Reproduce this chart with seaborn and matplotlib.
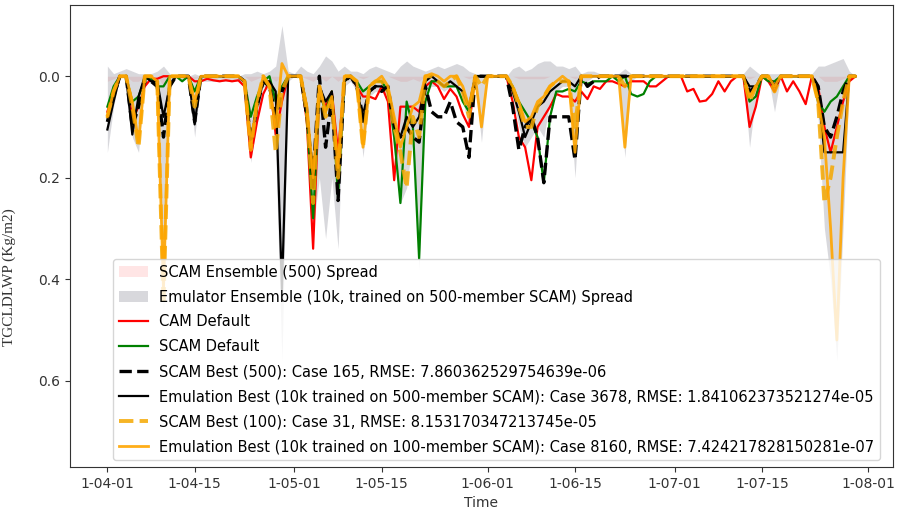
import datetime as dt

import numpy as np
import matplotlib
matplotlib.use("Agg")
import matplotlib.pyplot as plt
import matplotlib.dates as mdates
from matplotlib.ticker import MultipleLocator
import seaborn as sns

# ---------------------------------------------------------------------------
# Daily TGCLDLWP series, 1-04-01 .. 1-07-30 (121 days)
# ---------------------------------------------------------------------------
start_date = dt.datetime(1, 4, 1)
n_days = 121

cam_default = [
    0.07, 0.03, 0.0, 0.0, 0.085, 0.06, 0.02, 0.005, 0.005, 0.0,
    0.0, 0.0, 0.0, 0.0, 0.01, 0.01, 0.005, 0.008, 0.01, 0.008,
    0.01, 0.008, 0.02, 0.16, 0.09, 0.035, 0.01, 0.115, 0.05, 0.0,
    0.0, 0.0, 0.09, 0.34, 0.03, 0.06, 0.03, 0.15, 0.01, 0.0,
    0.02, 0.04, 0.04, 0.045, 0.02, 0.05, 0.205, 0.06, 0.06, 0.06,
    0.07, 0.02, 0.01, 0.02, 0.045, 0.025, 0.04, 0.075, 0.1, 0.0,
    0.0, 0.0, 0.0, 0.0, 0.0, 0.05, 0.12, 0.14, 0.205, 0.1,
    0.08, 0.06, 0.035, 0.04, 0.04, 0.05, 0.03, 0.045, 0.02, 0.025,
    0.01, 0.01, 0.015, 0.02, 0.01, 0.01, 0.01, 0.02, 0.02, 0.01,
    0.0, 0.0, 0.0, 0.03, 0.025, 0.05, 0.048, 0.035, 0.01, 0.03,
    0.01, 0.0, 0.0, 0.1, 0.06, 0.0, 0.01, 0.03, 0.0, 0.03,
    0.01, 0.03, 0.055, 0.0, 0.02, 0.1, 0.15, 0.1, 0.05, 0.01,
    0.0,
]

scam_default = [
    0.06, 0.02, 0.0, 0.0, 0.05, 0.04, 0.005, 0.005, 0.02, 0.02,
    0.0, 0.0, 0.01, 0.0, 0.03, 0.0, 0.0, 0.0, 0.0, 0.0,
    0.0, 0.0, 0.01, 0.08, 0.04, 0.01, 0.0, 0.05, 0.02, 0.0,
    0.0, 0.0, 0.08, 0.28, 0.03, 0.07, 0.03, 0.24, 0.01, 0.0,
    0.01, 0.03, 0.02, 0.01, 0.01, 0.03, 0.12, 0.25, 0.05, 0.1,
    0.36, 0.05, 0.01, 0.01, 0.02, 0.02, 0.02, 0.05, 0.07, 0.0,
    0.0, 0.0, 0.0, 0.0, 0.0, 0.02, 0.05, 0.07, 0.09, 0.12,
    0.21, 0.08, 0.03, 0.03, 0.025, 0.03, 0.01, 0.015, 0.01, 0.01,
    0.01, 0.0, 0.01, 0.0, 0.035, 0.04, 0.035, 0.01, 0.0, 0.0,
    0.0, 0.0, 0.0, 0.0, 0.0, 0.0, 0.0, 0.0, 0.0, 0.0,
    0.0, 0.0, 0.0, 0.05, 0.04, 0.0, 0.01, 0.01, 0.0, 0.0,
    0.0, 0.0, 0.0, 0.0, 0.05, 0.07, 0.05, 0.04, 0.02, 0.0,
    0.0,
]

scam_best_500 = [
    0.09, 0.04, 0.0, 0.0, 0.1, 0.06, 0.01, 0.01, 0.02, 0.12,
    0.02, 0.0, 0.0, 0.0, 0.09, 0.0, 0.0, 0.0, 0.0, 0.0,
    0.0, 0.0, 0.01, 0.13, 0.06, 0.01, 0.02, 0.08, 0.03, 0.0,
    0.0, 0.0, 0.08, 0.2, 0.0, 0.14, 0.04, 0.245, 0.01, 0.0,
    0.02, 0.08, 0.03, 0.02, 0.03, 0.02, 0.1, 0.12, 0.1, 0.12,
    0.13, 0.02, 0.07, 0.08, 0.08, 0.05, 0.09, 0.1, 0.16, 0.0,
    0.0, 0.0, 0.0, 0.0, 0.0, 0.06, 0.145, 0.1, 0.08, 0.12,
    0.21, 0.08, 0.08, 0.08, 0.08, 0.165, 0.0, 0.02, 0.01, 0.0,
    0.0, 0.0, 0.0, 0.0, 0.0, 0.0, 0.0, 0.0, 0.0, 0.0,
    0.0, 0.0, 0.0, 0.0, 0.0, 0.0, 0.0, 0.0, 0.0, 0.0,
    0.0, 0.0, 0.0, 0.03, 0.02, 0.0, 0.0, 0.02, 0.0, 0.0,
    0.0, 0.0, 0.0, 0.0, 0.02, 0.1, 0.12, 0.08, 0.03, 0.0,
    0.0,
]

emu_best_500 = [
    0.105, 0.05, 0.0, 0.0, 0.115, 0.04, 0.0, 0.01, 0.01, 0.08,
    0.02, 0.0, 0.0, 0.0, 0.095, 0.0, 0.0, 0.0, 0.0, 0.0,
    0.0, 0.0, 0.01, 0.125, 0.06, 0.01, 0.01, 0.03, 0.42, 0.0,
    0.0, 0.0, 0.06, 0.22, 0.02, 0.05, 0.03, 0.2, 0.01, 0.0,
    0.02, 0.09, 0.03, 0.02, 0.02, 0.03, 0.1, 0.12, 0.08, 0.1,
    0.08, 0.01, 0.0, 0.01, 0.02, 0.01, 0.02, 0.03, 0.06, 0.0,
    0.0, 0.0, 0.0, 0.0, 0.0, 0.03, 0.07, 0.12, 0.09, 0.06,
    0.05, 0.03, 0.02, 0.01, 0.01, 0.02, 0.0, 0.0, 0.0, 0.0,
    0.0, 0.0, 0.0, 0.0, 0.0, 0.0, 0.0, 0.0, 0.0, 0.0,
    0.0, 0.0, 0.0, 0.0, 0.0, 0.0, 0.0, 0.0, 0.0, 0.0,
    0.0, 0.0, 0.0, 0.02, 0.02, 0.0, 0.0, 0.02, 0.0, 0.0,
    0.0, 0.0, 0.0, 0.0, 0.03, 0.15, 0.15, 0.15, 0.15, 0.0,
    0.0,
]

scam_best_100 = [
    0.08, 0.03, 0.0, 0.0, 0.06, 0.14, 0.0, 0.0, 0.01, 0.45,
    0.0, 0.0, 0.0, 0.0, 0.06, 0.0, 0.0, 0.0, 0.0, 0.0,
    0.0, 0.0, 0.01, 0.145, 0.05, 0.0, 0.02, 0.15, 0.03, 0.0,
    0.0, 0.0, 0.07, 0.25, 0.02, 0.08, 0.05, 0.2, 0.0, 0.0,
    0.01, 0.14, 0.02, 0.01, 0.01, 0.03, 0.1, 0.15, 0.22, 0.08,
    0.12, 0.0, 0.0, 0.01, 0.02, 0.01, 0.0, 0.03, 0.08, 0.0,
    0.02, 0.0, 0.0, 0.0, 0.0, 0.02, 0.06, 0.1, 0.1, 0.06,
    0.04, 0.02, 0.01, 0.01, 0.01, 0.1, 0.0, 0.0, 0.0, 0.0,
    0.0, 0.0, 0.0, 0.02, 0.0, 0.0, 0.0, 0.0, 0.0, 0.0,
    0.0, 0.0, 0.0, 0.0, 0.0, 0.0, 0.0, 0.0, 0.0, 0.0,
    0.0, 0.0, 0.0, 0.05, 0.02, 0.0, 0.0, 0.03, 0.0, 0.0,
    0.0, 0.0, 0.0, 0.0, 0.05, 0.25, 0.2, 0.12, 0.05, 0.0,
    0.0,
]

emu_best_100 = [
    0.08, 0.03, 0.0, 0.0, 0.05, 0.13, 0.0, 0.0, 0.01, 0.42,
    0.0, 0.0, 0.0, 0.0, 0.05, 0.0, 0.0, 0.0, 0.0, 0.0,
    0.0, 0.0, 0.01, 0.14, 0.05, 0.0, 0.02, 0.1, -0.025, 0.0,
    0.0, 0.0, 0.06, 0.2, 0.02, 0.07, 0.04, 0.18, 0.0, 0.0,
    0.01, 0.14, 0.02, 0.01, 0.0, 0.02, 0.08, 0.14, 0.1, 0.06,
    0.05, 0.0, -0.005, 0.0, 0.01, 0.0, 0.0, 0.02, 0.06, 0.0,
    0.1, 0.0, 0.0, 0.0, 0.0, 0.02, 0.05, 0.09, 0.08, 0.05,
    0.04, 0.02, 0.01, 0.0, 0.01, 0.15, 0.0, 0.0, 0.0, 0.0,
    0.0, 0.0, 0.0, 0.14, 0.0, 0.0, 0.0, 0.0, 0.0, 0.0,
    0.0, 0.0, 0.0, 0.0, 0.0, 0.0, 0.0, 0.0, 0.0, 0.0,
    0.0, 0.0, 0.0, 0.04, 0.02, 0.0, 0.0, 0.02, 0.0, 0.0,
    0.0, 0.0, 0.0, 0.0, 0.05, 0.12, 0.3, 0.52, 0.2, 0.0,
    0.0,
]

# Emulator ensemble (10k) min / max envelope
emu_spread_min = [
    -0.02, -0.005, -0.01, -0.015, -0.01, -0.005, -0.005, -0.005, -0.01, -0.02,
    -0.005, 0.0, 0.0, 0.0, -0.005, 0.0, 0.0, 0.0, 0.0, 0.0,
    0.0, 0.0, -0.005, -0.005, -0.01, -0.005, -0.01, -0.02, -0.1, -0.01,
    -0.005, -0.02, -0.01, -0.005, -0.02, -0.04, -0.03, -0.01, -0.02, -0.01,
    -0.01, -0.005, -0.015, -0.02, -0.015, -0.01, -0.005, -0.02, -0.03, -0.02,
    -0.015, -0.01, -0.015, -0.02, -0.015, -0.02, -0.025, -0.02, -0.01, -0.005,
    -0.005, 0.0, 0.0, 0.0, 0.0, -0.015, -0.02, -0.01, -0.015, -0.025,
    -0.03, -0.03, -0.02, -0.02, -0.015, -0.02, -0.005, -0.01, -0.01, -0.005,
    -0.005, -0.005, -0.005, -0.015, -0.005, 0.0, 0.0, 0.0, 0.0, 0.0,
    0.0, 0.0, 0.0, 0.0, 0.0, 0.0, 0.0, 0.0, 0.0, 0.0,
    0.0, 0.0, -0.005, -0.02, -0.01, 0.0, -0.005, -0.005, -0.005, 0.0,
    0.0, 0.0, 0.0, -0.005, -0.02, -0.02, -0.025, -0.03, -0.035, -0.01,
    0.0,
]

emu_spread_max = [
    0.15, 0.06, 0.0, 0.0, 0.12, 0.15, 0.01, 0.01, 0.03, 0.46,
    0.02, 0.0, 0.01, 0.0, 0.12, 0.01, 0.01, 0.01, 0.01, 0.01,
    0.01, 0.01, 0.02, 0.17, 0.09, 0.02, 0.03, 0.15, 0.56, 0.01,
    0.0, 0.0, 0.1, 0.3, 0.2, 0.32, 0.2, 0.34, 0.02, 0.01,
    0.03, 0.16, 0.04, 0.03, 0.03, 0.04, 0.15, 0.25, 0.22, 0.12,
    0.38, 0.03, 0.02, 0.02, 0.03, 0.02, 0.02, 0.05, 0.1, 0.01,
    0.13, 0.0, 0.0, 0.0, 0.0, 0.04, 0.1, 0.14, 0.12, 0.1,
    0.12, 0.05, 0.03, 0.02, 0.02, 0.2, 0.01, 0.01, 0.0, 0.0,
    0.0, 0.0, 0.0, 0.16, 0.01, 0.0, 0.0, 0.0, 0.0, 0.0,
    0.0, 0.0, 0.0, 0.0, 0.0, 0.0, 0.0, 0.0, 0.0, 0.0,
    0.0, 0.0, 0.0, 0.14, 0.04, 0.0, 0.0, 0.07, 0.0, 0.0,
    0.0, 0.0, 0.0, 0.0, 0.08, 0.3, 0.4, 0.56, 0.3, 0.01,
    0.0,
]

# SCAM ensemble (500) min / max envelope (very narrow)
scam_spread_min = [
    0.0, 0.0, 0.0, 0.0, 0.0, 0.0, 0.0, 0.0, 0.0, 0.0,
    0.0, 0.0, 0.0, 0.0, 0.0, 0.0, 0.0, 0.0, 0.0, 0.0,
    0.0, 0.0, 0.0, 0.0, 0.0, 0.0, 0.0, 0.0, 0.0, 0.0,
    0.0, 0.0, 0.0, 0.0, 0.0, 0.0, 0.0, 0.0, 0.0, 0.0,
    0.0, 0.0, 0.0, 0.0, 0.0, 0.0, 0.0, 0.0, 0.0, 0.0,
    0.0, 0.0, 0.0, 0.0, 0.0, 0.0, 0.0, 0.0, 0.0, 0.0,
    0.0, 0.0, 0.0, 0.0, 0.0, 0.0, 0.0, 0.0, 0.0, 0.0,
    0.0, 0.0, 0.0, 0.0, 0.0, 0.0, 0.0, 0.0, 0.0, 0.0,
    0.0, 0.0, 0.0, 0.0, 0.0, 0.0, 0.0, 0.0, 0.0, 0.0,
    0.0, 0.0, 0.0, 0.0, 0.0, 0.0, 0.0, 0.0, 0.0, 0.0,
    0.0, 0.0, 0.0, 0.0, 0.0, 0.0, 0.0, 0.0, 0.0, 0.0,
    0.0, 0.0, 0.0, 0.0, 0.0, 0.0, 0.0, 0.0, 0.0, 0.0,
    0.0,
]

scam_spread_max = [
    0.01, 0.005, 0.0, 0.0, 0.01, 0.01, 0.0, 0.0, 0.0, 0.02,
    0.0, 0.0, 0.0, 0.0, 0.005, 0.0, 0.0, 0.0, 0.0, 0.0,
    0.0, 0.0, 0.0, 0.01, 0.005, 0.0, 0.0, 0.01, 0.0, 0.0,
    0.0, 0.0, 0.005, 0.01, 0.0, 0.01, 0.0, 0.01, 0.0, 0.0,
    0.0, 0.005, 0.0, 0.0, 0.0, 0.0, 0.005, 0.01, 0.01, 0.005,
    0.01, 0.0, 0.0, 0.0, 0.0, 0.0, 0.0, 0.0, 0.005, 0.0,
    0.0, 0.0, 0.0, 0.0, 0.0, 0.0, 0.005, 0.005, 0.005, 0.005,
    0.005, 0.0, 0.0, 0.0, 0.0, 0.005, 0.0, 0.0, 0.0, 0.0,
    0.0, 0.0, 0.0, 0.005, 0.0, 0.0, 0.0, 0.0, 0.0, 0.0,
    0.0, 0.0, 0.0, 0.0, 0.0, 0.0, 0.0, 0.0, 0.0, 0.0,
    0.0, 0.0, 0.0, 0.005, 0.0, 0.0, 0.0, 0.0, 0.0, 0.0,
    0.0, 0.0, 0.0, 0.0, 0.0, 0.01, 0.01, 0.01, 0.005, 0.0,
    0.0,
]

labels = {
    "scam_spread": "SCAM Ensemble (500) Spread",
    "emu_spread": "Emulator Ensemble (10k, trained on 500-member SCAM) Spread",
    "cam": "CAM Default",
    "scam": "SCAM Default",
    "scam500": "SCAM Best (500): Case 165, RMSE: 7.860362529754639e-06",
    "emu500": "Emulation Best (10k trained on 500-member SCAM): Case 3678, RMSE: 1.841062373521274e-05",
    "scam100": "SCAM Best (100): Case 31, RMSE: 8.153170347213745e-05",
    "emu100": "Emulation Best (10k trained on 100-member SCAM): Case 8160, RMSE: 7.424217828150281e-07",
}

dates = [start_date + dt.timedelta(days=i) for i in range(n_days)]
t = mdates.date2num(dates)

# ---------------------------------------------------------------------------
# Figure
# ---------------------------------------------------------------------------
fig = plt.figure(figsize=(8.97, 5.21), dpi=100)
ax = fig.add_axes([0.078, 0.104, 0.9175, 0.886])

ax.fill_between(t, scam_spread_min, scam_spread_max,
                color="red", alpha=0.1, lw=0,
                label=labels["scam_spread"])
ax.fill_between(t, emu_spread_min, emu_spread_max,
                color="#7f7f8c", alpha=0.3, lw=0,
                label=labels["emu_spread"])

sns.lineplot(x=t, y=cam_default, ax=ax, color="red", lw=1.6,
             label=labels["cam"])
sns.lineplot(x=t, y=scam_default, ax=ax, color="green", lw=1.6,
             label=labels["scam"])
sns.lineplot(x=t, y=scam_best_500, ax=ax, color="black", lw=2.4,
             linestyle="--", label=labels["scam500"])
sns.lineplot(x=t, y=emu_best_500, ax=ax, color="black", lw=1.6,
             label=labels["emu500"])
sns.lineplot(x=t, y=scam_best_100, ax=ax, color="#f5a800", lw=2.8,
             linestyle="--", alpha=0.85, label=labels["scam100"])
sns.lineplot(x=t, y=emu_best_100, ax=ax, color="orange", lw=2.0,
             alpha=0.9, label=labels["emu100"])

# Axes formatting
ax.set_ylim(0.77, -0.14)
ax.yaxis.set_major_locator(MultipleLocator(0.2))
ax.xaxis.set_major_locator(mdates.DayLocator(bymonthday=[1, 15]))
ax.xaxis.set_major_formatter(mdates.DateFormatter("%Y-%m-%d"))
ax.tick_params(labelsize=10, colors="#333333")
for s in ax.spines.values():
    s.set_color("#333333")

ax.set_xlabel("Time", fontsize=10, color="#333333")
ax.set_ylabel("TGCLDLWP (Kg/m2)", fontsize=11,
              family=["Liberation Serif", "DejaVu Serif"], color="#333333")
ax.yaxis.set_label_coords(-0.066, 0.41)

handles, labs = ax.get_legend_handles_labels()
order = [labels[k] for k in ["scam_spread", "emu_spread", "cam", "scam",
                             "scam500", "emu500", "scam100", "emu100"]]
hmap = dict(zip(labs, handles))
ax.legend([hmap[l] for l in order], order, loc="lower left",
          bbox_to_anchor=(0.052, 0.015), borderaxespad=0, fontsize=10.5,
          labelspacing=0.68, framealpha=0.8)

fig.savefig("out.png", dpi=100)
